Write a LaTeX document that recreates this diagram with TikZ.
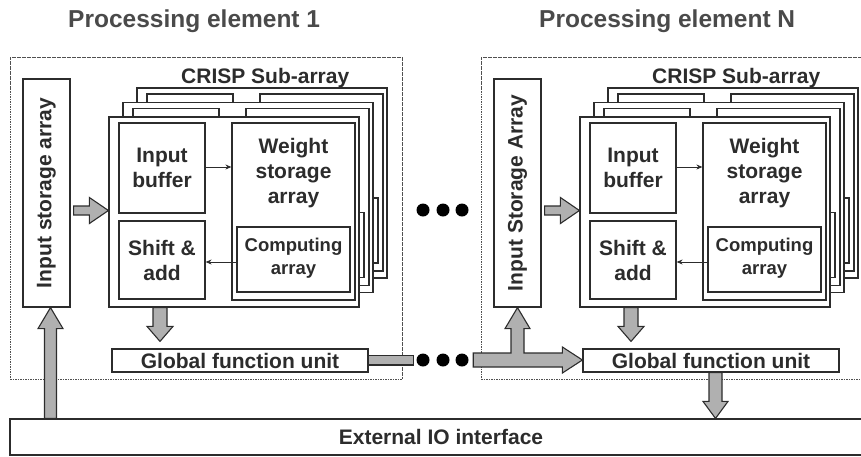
\documentclass[tikz,border=0pt]{standalone}
\usepackage{fontspec}
\setmainfont{Liberation Sans}
\usetikzlibrary{calc,arrows.meta}

\definecolor{ink}{HTML}{2C2C2C}
\definecolor{titlegray}{HTML}{4A4A4A}
\definecolor{arrowgray}{HTML}{B0B0B0}
\definecolor{dashgray}{HTML}{505050}

\newcommand\bodyfont{\fontsize{21}{25}\selectfont\bfseries}
\newcommand\smallbodyfont{\fontsize{18.5}{23}\selectfont\bfseries}
\newcommand\titlefont{\fontsize{24.5}{29}\selectfont\bfseries}

\tikzset{
  box/.style={draw=ink, line width=1.2pt, fill=white, rectangle, inner sep=0pt,
              font=\bodyfont, text=ink, align=center},
  txt/.style={font=\bodyfont, text=ink, align=center, inner sep=0pt},
  ttl/.style={font=\titlefont, text=titlegray, inner sep=0pt},
  pebox/.style={draw=dashgray, line width=0.8pt, dash pattern=on 1.6pt off 0.9pt,
                rectangle, inner sep=0pt},
  fatarrow/.style={draw=ink, line width=1.1pt, fill=arrowgray, line join=miter},
  signal/.style={draw=ink, line width=0.9pt, -{Stealth[length=6pt,width=5pt]}},
  dotmark/.style={circle, fill=black, inner sep=0pt, minimum size=13pt},
}

% outlined block arrow: start, tip, shaft half width, head half width, head length
\newcommand\blockarrow[5]{%
  \coordinate (ba-s) at #1;
  \coordinate (ba-e) at #2;
  \coordinate (ba-h) at ($(ba-e)!#5!(ba-s)$);
  \draw[fatarrow] ($(ba-s)!#3!90:(ba-e)$) -- ($(ba-h)!#3!90:(ba-e)$)
    -- ($(ba-h)!#4!90:(ba-e)$) -- (ba-e) -- ($(ba-h)!#4!-90:(ba-e)$)
    -- ($(ba-h)!#3!-90:(ba-e)$) -- ($(ba-s)!#3!-90:(ba-e)$) -- cycle;
}

% one layer of a CRISP sub-array: prefix, suffix, x origin, y offset
\newcommand\sublayer[4]{%
  \node[box, minimum width=250pt, minimum height=190pt] (#1sub#2) at (#3+234,#4+212) {};
  \node[box, minimum width=86pt, minimum height=90pt] (#1ib#2) at (#3+162,#4+168) {};
  \node[box, minimum width=86pt, minimum height=78pt] (#1sa#2) at (#3+162,#4+260) {};
  \node[box, minimum width=123pt, minimum height=177pt] (#1wsa#2) at (#3+293.5,#4+211.5) {};
  \node[box, minimum width=113pt, minimum height=65pt] (#1ca#2) at (#3+293.5,#4+259.5) {};
}

% a processing element: prefix, x origin, index, input storage label
\newcommand\procelem[4]{%
  \node[pebox, minimum width=392pt, minimum height=322pt] (#1pe) at (#2+206,218) {};
  \node[ttl, anchor=base west] (#1title) at (#2+68,27.5) {Processing element #3};
  \node[box, minimum width=47pt, minimum height=228pt] (#1isa) at (#2+46.5,193) {};
  \node[txt, rotate=90] (#1isatext) at (#1isa.center) {#4};
  \node[txt, anchor=base west] (#1crisp) at (#2+181,83) {CRISP Sub-array};
  \foreach \k in {2,1}{\sublayer{#1}{\k}{#2+14*\k}{-14.5*\k}}
  \sublayer{#1}{}{#2}{0}
  \node[txt] (#1ibtext) at (#1ib.center) {Input\\buffer};
  \node[txt] (#1satext) at (#1sa.center) {Shift \&\\add};
  \node[txt, font=\smallbodyfont] (#1catext) at ($(#1ca.center)+(0,-1)$) {Computing\\array};
  \node[txt] (#1wsatext) at (#2+293.5,173) {Weight\\storage\\array};
  \draw[signal] ($(#1ib.east)+(0,-1)$) -- ($(#1ib.east -| #1wsa.west)+(0,-1)$);
  \draw[signal] ($(#1ca.west)+(0,2.5)$) -- ($(#1ca.west -| #1sa.east)+(0,2.5)$);
  \node[box, minimum width=256pt, minimum height=23pt] (#1gfu) at (#2+240,360.5) {Global function unit};
  \blockarrow{($(#1isa.east |- #1sub.west)+(3,-1.5)$)}{($(#1sub.west)+(0,-1.5)$)}{4.5pt}{13pt}{19pt}
  \blockarrow{($(#1sub.south)+(-74,0)$)}{($(#1gfu.north)+(-80,-7)$)}{7pt}{13pt}{15pt}
}

\begin{document}
\begin{tikzpicture}[x=1pt,y=-1pt]
\useasboundingbox (0,0) rectangle (861,456);

% shared external interface
\node[box, minimum width=862pt, minimum height=36pt] (io) at (441,437) {External IO interface};

\procelem{L-}{0}{1}{Input storage array}
\procelem{R-}{471}{N}{Input Storage Array}

% ellipsis between the elements
\node[dotmark] (d1) at (423,210) {};
\node[dotmark] (d2) at (443,210) {};
\node[dotmark] (d3) at (462,210) {};
\node[dotmark] (d4) at (423,360) {};
\node[dotmark] (d5) at (443,360) {};
\node[dotmark] (d6) at (462,360) {};

% IO feeds the first input storage
\blockarrow{($(io.north -| L-isa.south)+(4,0)$)}{($(L-isa.south)+(4,0)$)}{6pt}{12.5pt}{21pt}

% result bus leaving the first element
\draw[fatarrow] ($(L-gfu.east)+(0,-5)$) rectangle ($(d4.west)+(-2.5,5)$);

% bus entering the last element, branching to its input storage
\coordinate (ts) at ($(d6.east)+(4.5,0)$);
\coordinate (tj) at (R-isa.south |- ts);
\coordinate (tg) at (R-gfu.west |- ts);
\draw[fatarrow] ($(ts)+(0,-7)$) -- ($(tj)+(-6.5,-7)$) -- ($(R-isa.south)+(-6.5,21)$)
  -- ($(R-isa.south)+(-12.5,21)$) -- (R-isa.south) -- ($(R-isa.south)+(12.5,21)$)
  -- ($(R-isa.south)+(6.5,21)$) -- ($(tj)+(6.5,-7)$) -- ($(tg)+(-20,-7)$)
  -- ($(tg)+(-20,-13)$) -- (tg) -- ($(tg)+(-20,13)$) -- ($(tg)+(-20,7)$)
  -- ($(ts)+(0,7)$) -- cycle;

% last element writes to IO
\blockarrow{($(R-gfu.south)+(4.5,0)$)}{($(io.north -| R-gfu.south)+(4.5,0)$)}{6.5pt}{12.5pt}{17pt}
\end{tikzpicture}
\end{document}
